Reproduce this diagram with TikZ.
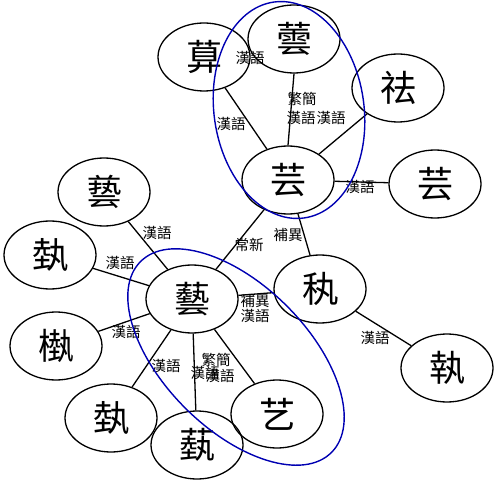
\documentclass[tikz,border=0pt]{standalone}
\usepackage{fontspec}
\newfontfamily\cjk{Noto Sans CJK TC}
\usetikzlibrary{shapes.geometric}
\tikzset{
  zi/.style={draw,ellipse,line width=1.3pt,minimum width=92pt,minimum height=68pt,inner sep=0pt,font=\cjk\fontsize{36}{36}\selectfont},
  lbl/.style={inner sep=0pt,font=\cjk\fontsize{14.5}{14.5}\selectfont},
  link/.style={line width=1.3pt},
  ring/.style={draw=blue!70!black,line width=1.4pt}
}
\begin{document}
\begin{tikzpicture}[x=1pt,y=-1pt]
\useasboundingbox (0,0) rectangle (500,486);
% 芸 group
\node[zi] (yunT) at (294,39){蕓};
\node[zi] (gu) at (204,57){萛};
\node[zi] (shi) at (398,88){祛};
\node[zi] (yun) at (288,180){芸};
\node[zi] (yunR) at (435,184){芸};
% 藝 group
\node[zi] (yiA) at (104,192){兿};
\node[zi] (yiB) at (50,255){埶};
\node[zi] (yi) at (192,299){藝};
\node[zi] (yiH) at (320,289){秇};
\node[zi] (yiM) at (56,346){槸};
\node[zi] (yiT) at (111,418){埶};
\node[zi] (yiC) at (197,445){蓺};
\node[zi] (yiS) at (277,414){艺};
\node[zi] (zhi) at (447,368){執};
% links
\draw[link] (gu)--(yunT);
\draw[link] (gu)--(yun);
\draw[link] (yunT.south)--(yun.north);
\draw[link] (yun)--(shi);
\draw[link] (yun)--(yunR);
\draw[link] (yun)--(yi);
\draw[link] (yun)--(yiH);
\draw[link] (yiA)--(yi);
\draw[link] (yiB)--(yi);
\draw[link] (yi)--(yiH);
\draw[link] (yi)--(yiM);
\draw[link] (yi)--(yiT);
\draw[link] (yi)--(yiC);
\draw[link] (yi)--(yiS);
\draw[link] (yiH)--(zhi);
% labels
\node[lbl] (l1) at (250,58){漢語};
\node[lbl] (l2) at (231,124){漢語};
\node[lbl] (l3) at (302,99){繁簡};
\node[lbl] (l4) at (301,118){漢語};
\node[lbl] (l5) at (331,118){漢語};
\node[lbl] (l6) at (360,187){漢語};
\node[lbl] (l7) at (249,245){常新};
\node[lbl] (l8) at (288,235){補異};
\node[lbl] (l9) at (157,233){漢語};
\node[lbl] (l10) at (120,263){漢語};
\node[lbl] (l11) at (255,301){補異};
\node[lbl] (l12) at (255,316){漢語};
\node[lbl] (l13) at (126,332){漢語};
\node[lbl] (l14) at (166,366){漢語};
\node[lbl] (l15) at (205,373){漢語};
\node[lbl] (l16) at (216,360){繁簡};
\node[lbl] (l17) at (220,376){漢語};
\node[lbl] (l18) at (375,338){漢語};
% rings
\draw[ring,rotate around={8:(289,110)}] (289,110) ellipse [x radius=75,y radius=109];
\draw[ring,rotate around={-45:(236,357)}] (236,357) ellipse [x radius=135,y radius=72];
\end{tikzpicture}
\end{document}
